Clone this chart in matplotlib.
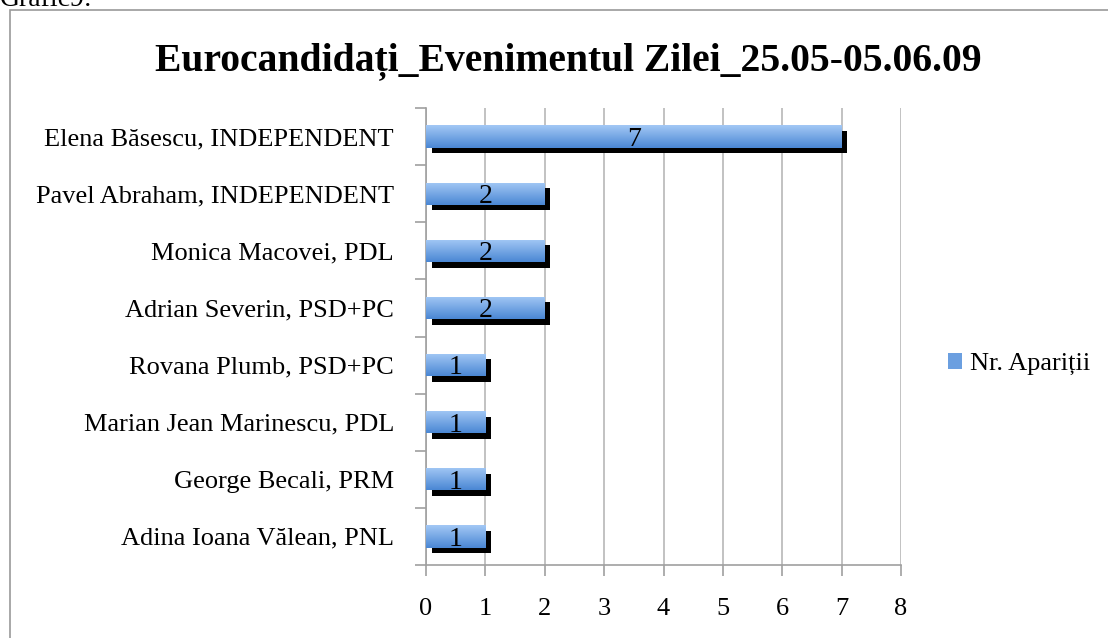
import numpy as np
import matplotlib.pyplot as plt
import matplotlib.patheffects as pe
from matplotlib.patches import Rectangle
from matplotlib.colors import LinearSegmentedColormap

# date
candidati = ['Elena Băsescu, INDEPENDENT', 'Pavel Abraham, INDEPENDENT', 'Monica Macovei, PDL',
             'Adrian Severin, PSD+PC', 'Rovana Plumb, PSD+PC', 'Marian Jean Marinescu, PDL',
             'George Becali, PRM', 'Adina Ioana Vălean, PNL']
aparitii = [7, 2, 2, 2, 1, 1, 1, 1]
titlu = 'Eurocandidați_Evenimentul Zilei_25.05-05.06.09'
serie = 'Nr. Apariții'

serif = ['Liberation Serif', 'DejaVu Serif']

fig = plt.figure(figsize=(11.08, 6.38), dpi=100)
fig.patch.set_facecolor('white')

# chenarul graficului
fig.patches.append(Rectangle((10 / 1108, -0.1), 1.2, 1 - 10 / 638 + 0.1, transform=fig.transFigure,
                             fill=False, edgecolor='#9a9a9a', linewidth=1.2))
fig.text(0.0, 1.0 + 0.02, 'Grafic9:', family=serif, fontsize=20, va='top', ha='left')

ax = fig.add_axes([426 / 1108, 1 - 565 / 638, (901 - 426) / 1108, (565 - 108) / 638])

y = np.arange(len(candidati))[::-1]
bars = ax.barh(y, aparitii, height=0.39, color='#6b9fe0', zorder=3,
               path_effects=[pe.SimplePatchShadow(offset=(4, -4), shadow_rgbFace='black', alpha=1.0),
                             pe.Normal()])

# gradient pe bare
grad = np.linspace(0, 1, 100).reshape(-1, 1)
cmap = LinearSegmentedColormap.from_list('g', ['#a3c8f5', '#4a87d4'])
for b in bars:
    x0, y0, w, h = b.get_x(), b.get_y(), b.get_width(), b.get_height()
    im = ax.imshow(grad, extent=(x0, x0 + w, y0, y0 + h), origin='upper', aspect='auto',
                   cmap=cmap, zorder=4)
    im.set_clip_path(b)

for yi, v in zip(y, aparitii):
    ax.text(v / 2, yi - 0.05, str(v), ha='center', va='center', fontsize=20, family=serif, zorder=5)

ax.set_xlim(0, 8)
ax.set_ylim(-0.5, len(candidati) - 0.5)
ax.set_xticks(range(9))
ax.set_xticklabels([str(i) for i in range(9)], family=serif, fontsize=19)
ax.set_yticks(y)
ax.set_yticklabels(candidati, family=serif, fontsize=19)
ax.tick_params(axis='y', length=0, pad=23)
ax.set_yticks(np.arange(-0.5, len(candidati), 1), minor=True)
ax.tick_params(axis='y', which='minor', length=8, color='#a0a0a0', width=1.2)
ax.tick_params(axis='x', length=8, color='#a0a0a0', width=1.2, pad=16)
ax.grid(axis='x', color='#b8b8b8', linewidth=1.2, zorder=0)
for s in ['top', 'right']:
    ax.spines[s].set_visible(False)
for s in ['left', 'bottom']:
    ax.spines[s].set_color('#a0a0a0')
    ax.spines[s].set_linewidth(1.2)

fig.text(0.513, 0.905, titlu, ha='center', va='center', fontsize=28.5, fontweight='bold', family=serif)

# legenda
leg = ax.legend([bars[0]], [serie], loc='center left', bbox_to_anchor=(924 / 1108, 1 - 364 / 638),
                bbox_transform=fig.transFigure, frameon=False, prop={'family': serif, 'size': 19},
                handlelength=0.55, handleheight=0.55, handletextpad=0.3)
leg.legend_handles[0].set_path_effects([])

fig.savefig('out.png', dpi=100)
